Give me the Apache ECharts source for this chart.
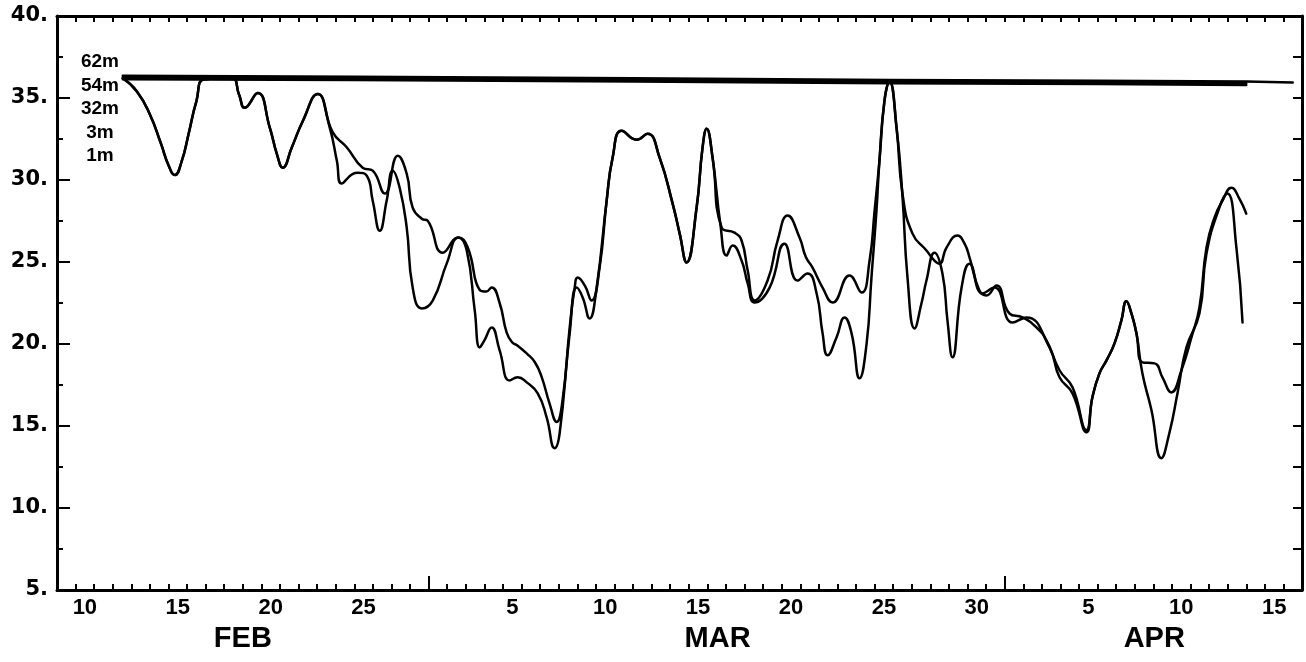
<!DOCTYPE html>
<html><head><meta charset="utf-8">
<script src="https://cdn.jsdelivr.net/npm/echarts@6/dist/echarts.min.js"></script>
<style>html,body{margin:0;padding:0;background:#fff}#c{width:1306px;height:662px}</style>
</head><body><div id="c"></div>
<script>
// x = day number counted from Feb 1 (Feb D 00:00 = D, Mar D = 28 + D, Apr D = 59 + D)
const depthNames = ['62m', '54m', '32m', '3m', '1m'];
const monthNames = ['FEB', 'MAR', 'APR'];
const monthOffsets = [0, 28, 59];
const monthStarts = [29, 60];
const monthLabelPos = [19.0, 44.55, 68.05];
const febLabelDays = [10, 15, 20, 25];
const marLabelDays = [5, 10, 15, 20, 25, 30];
const aprLabelDays = [5, 10, 15];

const s62 = [[12.54,36.35],[25,36.3],[40,36.2],[53.8,36.1],[65,36.05],[73,36.0],[75.5,35.95]];
const s54 = [[12.54,36.25],[25,36.2],[40,36.1],[53.8,36.0],[65,35.95],[73,35.9]];
const s32 = [[12.54,36.15],[25,36.1],[40,36.0],[53.8,35.9],[65,35.85],[73,35.8]];

const s3 = [[12.54,36.2],[13.3,35.4],[14.0,34.0],[14.6,32.2],[15.0,30.9],[15.34,30.3],[15.7,31.1],[16.1,32.9],[16.5,34.8],[16.95,36.15],[18.4,36.2],[18.8,35.2],[19.1,34.4],[19.8,35.3],[20.45,33.2],[20.83,31.6],[21.15,30.75],[21.63,31.97],[22.23,33.6],[23.03,35.25],
 [23.84,32.9],[24.59,32.0],[25.45,30.75],[25.99,30.57],[26.64,29.17],[27.34,31.48],[27.82,30.38],[28.14,28.31],[28.63,27.64],[28.95,27.52],[29.76,25.57],[30.6,26.5],[31.1,25.9],[31.75,23.3],[32.1,23.2],[32.39,23.45],[32.82,22.5],[33.2,20.7],[33.5,20.1],[33.79,19.9],[34.3,19.4],[34.71,18.9],[35.08,18.0],[35.5,16.4],[35.89,15.25],[36.21,16.6],[36.59,21.0],[36.86,23.44],[37.02,24.05],[37.4,23.57],[37.77,22.65],[38.2,24.66],[38.58,28.74],
 [38.9,31.36],[39.39,33.0],[40.19,32.45],[40.78,32.82],[41.43,31.36],[42.13,28.56],[42.51,26.73],[42.88,24.97],[43.42,28.31],[43.74,31.97],[43.96,33.12],[44.28,31.36],[44.77,27.1],
 [45.46,26.79],[45.84,26.31],[46.17,24.48],[46.54,22.65],[47.24,23.87],[47.78,26.31],[48.32,27.83],[48.96,26.49],[49.3,25.3],[49.66,24.66],[50.2,23.44],[50.74,22.53],[51.65,24.18],[52.3,23.14],[52.73,25.09],[53.0,28.13],[53.26,31.17],[53.53,34.83],[53.8,36.0],
 [54.18,33.18],[54.5,29.17],[55.04,26.73],[55.79,25.7],[56.22,25.09],[56.49,24.9],[56.87,25.88],[57.46,26.61],[57.84,26.12],[58.11,25.27],[58.64,23.26],[59.02,22.96],[59.56,23.57],[60.26,21.86],[60.96,21.62],[61.71,21.01],[62.25,20.22],[62.95,18.4],[63.65,17.36],[64.4,14.74],
 [64.72,16.75],[65.1,18.21],[65.48,19.0],[65.91,20.04],[66.28,21.44],[66.55,22.6],[66.82,21.86],[67.09,20.65],[67.41,18.88],[68.06,18.82],[68.49,17.97],[68.97,17.05],[69.51,18.4],[70.05,20.4],[70.48,22.23],[70.86,25.88],[71.29,27.71],[71.72,28.74],[72.2,29.53],[72.63,28.86],[73.0,27.95]];

const s1 = [[12.54,36.2],[13.3,35.4],[14.0,34.0],[14.6,32.2],[15.0,30.9],[15.34,30.3],[15.7,31.1],[16.1,32.9],[16.5,34.8],[16.95,36.15],[18.4,36.2],[18.8,35.2],[19.1,34.4],[19.8,35.3],[20.45,33.2],[20.83,31.6],[21.15,30.75],[21.63,31.97],[22.23,33.6],[23.03,35.25],
 [23.68,33.18],[24.06,31.17],[24.32,29.78],[24.92,30.38],[25.19,30.44],[25.67,30.26],[25.99,28.74],[26.37,26.91],[26.74,28.74],[27.07,30.57],[27.44,29.53],[27.82,27.1],[28.14,23.44],[28.63,22.17],[29.22,22.65],[29.97,24.9],[30.6,26.5],
 [31.05,25.7],[31.48,22.05],[31.75,19.79],[32.0,20.22],[32.39,21.01],[32.82,19.61],[33.36,17.78],[33.79,17.97],[34.28,17.66],[34.87,16.99],[35.35,15.53],[35.78,13.65],[36.05,14.56],[36.59,20.65],[36.97,23.44],[37.29,22.84],[37.66,21.56],[38.04,23.44],[38.58,28.74],
 [38.9,31.36],[39.39,33.0],[40.19,32.45],[40.78,32.82],[41.43,31.36],[42.13,28.56],[42.51,26.73],[42.88,24.97],[43.42,28.31],[43.74,31.97],[43.96,33.12],[44.28,31.36],[44.7,27.3],
 [45.03,25.39],[45.36,26.0],[45.84,25.09],[46.17,23.69],[46.54,22.53],[47.35,23.44],[48.15,26.12],[48.85,23.87],[49.39,24.3],[49.88,23.08],[50.2,20.65],[50.47,19.31],[50.95,20.4],[51.38,21.62],[51.76,20.65],[52.19,17.91],[52.57,20.04],[52.83,24.05],[53.1,28.13],[53.26,31.17],[53.53,34.83],[53.8,36.0],
 [54.2,33.0],[54.5,29.0],[54.77,24.05],[55.15,20.95],[55.52,22.47],[55.79,23.87],[56.22,25.57],[56.65,24.3],[56.92,21.44],[57.19,19.19],[57.68,23.44],[58.11,24.9],[58.81,23.08],[59.45,23.44],[60.42,21.31],[61.17,21.62],[62.41,19.79],[62.95,17.97],[63.65,16.99],[64.4,14.62],
 [64.72,16.75],[65.1,18.21],[65.48,19.0],[65.91,20.04],[66.28,21.44],[66.55,22.6],[66.82,21.86],[67.09,20.65],[67.41,18.21],[67.9,15.96],[68.43,13.04],[68.86,14.56],[69.3,16.99],[69.78,19.79],[70.48,21.86],[70.86,25.51],[71.55,28.31],[71.98,29.17],[72.47,25.88],[72.8,21.31]];

const seriesData = [s62, s54, s32, s3, s1];

// label positions (noon of labelled days) and their texts
const dayLabelPos = [];
const dayLabelText = {};
[febLabelDays, marLabelDays, aprLabelDays].forEach((arr, m) => {
  arr.forEach(d => { const v = d + monthOffsets[m] + 0.5; dayLabelPos.push(v); dayLabelText[v.toFixed(2)] = String(d); });
});
const monthLabelText = {};
monthLabelPos.forEach((v, i) => { monthLabelText[v.toFixed(2)] = monthNames[i]; });

const BLACK = '#000';
const chart = echarts.init(document.getElementById('c'), null, {renderer: 'canvas'});
chart.setOption({
  animation: false,
  backgroundColor: '#fff',
  grid: {left: 57, top: 16, width: 1245, height: 574, containLabel: false, outerBoundsMode: 'none'},
  xAxis: [
    {type: 'value', min: 9, max: 76, interval: 1, position: 'bottom',
     axisLine: {show: true, onZero: false, lineStyle: {color: BLACK, width: 3}},
     axisTick: {show: true, inside: true, length: 6, lineStyle: {color: BLACK, width: 2}},
     axisLabel: {show: true, customValues: dayLabelPos, margin: 7,
       formatter: v => dayLabelText[Number(v).toFixed(2)] || '',
       color: BLACK, fontFamily: '"Liberation Sans", Arial, sans-serif', fontWeight: 'bold', fontSize: 22},
     splitLine: {show: false}},
    {type: 'value', min: 9, max: 76, position: 'bottom', offset: 0,
     axisLine: {show: false, onZero: false},
     axisTick: {show: true, inside: true, customValues: monthStarts, length: 14, lineStyle: {color: BLACK, width: 2}},
     axisLabel: {show: true, customValues: monthLabelPos, margin: 34,
       formatter: v => monthLabelText[Number(v).toFixed(2)] || '',
       color: BLACK, fontFamily: '"Liberation Sans", Arial, sans-serif', fontWeight: 'bold', fontSize: 29},
     splitLine: {show: false}},
    {type: 'value', min: 9, max: 76, interval: 1, position: 'top',
     axisLine: {show: true, onZero: false, lineStyle: {color: BLACK, width: 3}},
     axisTick: {show: true, inside: true, length: 6, lineStyle: {color: BLACK, width: 2}},
     axisLabel: {show: false}, splitLine: {show: false}}
  ],
  yAxis: [
    {type: 'value', min: 5, max: 40, interval: 5, position: 'left',
     axisLine: {show: true, onZero: false, lineStyle: {color: BLACK, width: 3}},
     axisTick: {show: true, inside: true, length: 13, lineStyle: {color: BLACK, width: 2}},
     minorTick: {show: true, splitNumber: 2, length: 6, lineStyle: {color: BLACK, width: 2}},
     axisLabel: {show: true, margin: 9, formatter: v => v + '.', color: BLACK,
       fontFamily: '"DejaVu Sans", sans-serif', fontWeight: 'bold', fontSize: 21},
     splitLine: {show: false}},
    {type: 'value', min: 5, max: 40, interval: 2.5, position: 'right',
     axisLine: {show: true, onZero: false, lineStyle: {color: BLACK, width: 3}},
     axisTick: {show: true, inside: true, length: 9, lineStyle: {color: BLACK, width: 2}},
     axisLabel: {show: false}, splitLine: {show: false}}
  ],
  graphic: depthNames.map((n, i) => ({
    type: 'text', x: 100, y: 62 + i * 23.5, silent: true,
    style: {text: n, align: 'center', verticalAlign: 'middle', textAlign: 'center', textVerticalAlign: 'middle',
      fill: BLACK, font: 'bold 19px "Liberation Sans", Arial, sans-serif'}
  })),
  series: seriesData.map((d, i) => ({
    name: depthNames[i], type: 'line', xAxisIndex: 0, yAxisIndex: 0,
    data: d, showSymbol: false, symbol: 'none',
    smooth: i >= 3 ? 0.5 : false,
    lineStyle: {color: BLACK, width: 2.5, join: 'round', cap: 'round'}
  }))
});
</script>
</body></html>
